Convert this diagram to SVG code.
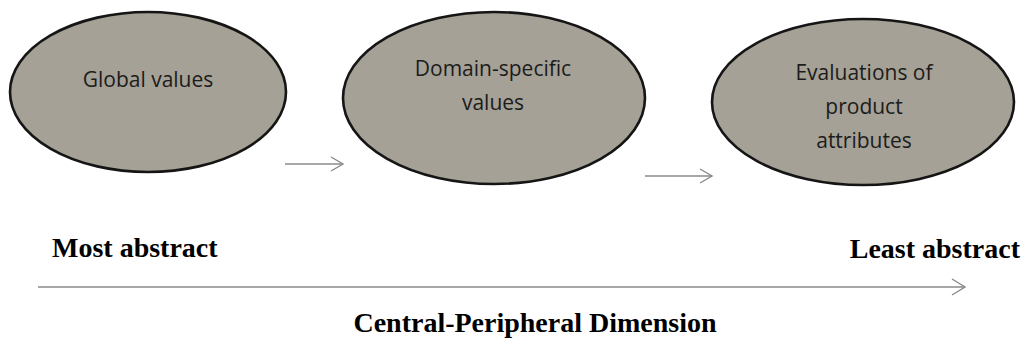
<svg xmlns="http://www.w3.org/2000/svg" width="1025" height="342" viewBox="0 0 1025 342">
<style>
.node ellipse{fill:#a5a196;stroke:#151515;stroke-width:2.6}
.nt{font-family:"Open Sans","Liberation Sans",sans-serif;font-size:21px;fill:#1c1c1c;text-anchor:middle}
.bt{font-family:"Liberation Serif","Times New Roman",serif;font-weight:bold;font-size:28px;fill:#000}
.conn line,.conn polyline{stroke:#8a8a8a;stroke-width:1.4;fill:none}
</style>
<rect width="1025" height="342" fill="#ffffff"/>
<g id="node-global" class="node">
<ellipse cx="148" cy="92" rx="138" ry="80"/>
<text class="nt" x="148" y="87">Global values</text>
</g>
<g id="node-domain" class="node">
<ellipse cx="494" cy="98" rx="151" ry="86"/>
<text class="nt" x="493" y="76">Domain-specific</text>
<text class="nt" x="493" y="110">values</text>
</g>
<g id="node-evaluations" class="node">
<ellipse cx="863" cy="102" rx="151" ry="83"/>
<text class="nt" x="864" y="80">Evaluations of</text>
<text class="nt" x="864" y="114">product</text>
<text class="nt" x="864" y="148">attributes</text>
</g>
<g id="connectors" class="conn">
<line x1="285" y1="164" x2="343" y2="164"/>
<polyline points="331,157 343,164 331,171"/>
<line x1="645" y1="176" x2="712" y2="176"/>
<polyline points="700,169 712,176 700,183"/>
<line x1="38" y1="287" x2="965" y2="287"/>
<polyline points="952,279 965,287 952,295"/>
</g>
<g id="labels">
<text class="bt" x="52" y="257">Most abstract</text>
<text class="bt" x="1020" y="258" text-anchor="end">Least abstract</text>
<text class="bt" x="535" y="332" text-anchor="middle">Central-Peripheral Dimension</text>
</g>
</svg>
